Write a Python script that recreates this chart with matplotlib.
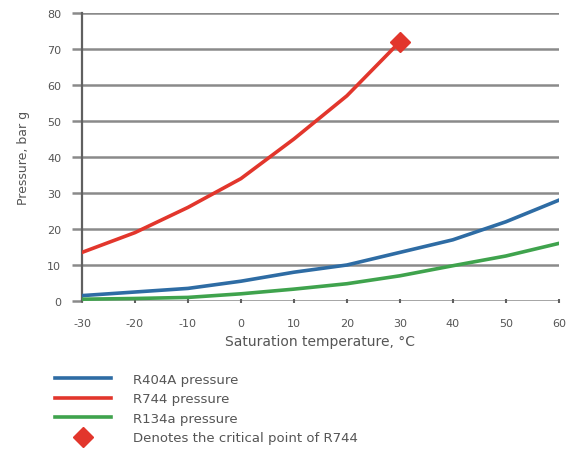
import matplotlib
matplotlib.use("Agg")
import matplotlib.pyplot as plt

plt.rcParams["axes.unicode_minus"] = False

temps = [-30, -20, -10, 0, 10, 20, 30, 40, 50, 60]
r404a = [1.5, 2.5, 3.5, 5.5, 8.0, 10.0, 13.5, 17.0, 22.0, 28.0]
r134a = [0.5, 0.7, 1.0, 2.0, 3.3, 4.8, 7.0, 9.8, 12.5, 16.0]
r744_t = [-30, -20, -10, 0, 10, 20, 30]
r744 = [13.5, 19.0, 26.0, 34.0, 45.0, 57.0, 72.0]
crit_t = [30]
crit_p = [72.0]
xticks = [-30, -20, -10, 0, 10, 20, 30, 40, 50, 60]
yticks = [0, 10, 20, 30, 40, 50, 60, 70, 80]

c_blue = "#2e6ca4"
c_red = "#e2362c"
c_green = "#3fa34d"
grid_c = "#8a8a8a"
text_c = "#555555"

fig = plt.figure(figsize=(5.71, 4.56), dpi=100)
ax = fig.add_axes([0.1436, 0.3377, 0.835, 0.6316])
ax.set_xlim(-30, 60)
ax.set_ylim(0, 80)

for y in yticks:
    ax.axhline(y, color=grid_c, lw=1.8, zorder=1)

l1, = ax.plot(temps, r404a, color=c_blue, lw=2.6, zorder=3, label="R404A pressure")
l2, = ax.plot(r744_t, r744, color=c_red, lw=2.6, zorder=3, label="R744 pressure")
l3, = ax.plot(temps, r134a, color=c_green, lw=2.6, zorder=3, label="R134a pressure")
m, = ax.plot(crit_t, crit_p, marker="D", ms=10, color=c_red, ls="none", zorder=4,
             label="Denotes the critical point of R744")

for s in ["top", "right", "bottom"]:
    ax.spines[s].set_visible(False)
ax.spines["left"].set_color("#606060")
ax.spines["left"].set_linewidth(1.6)

ax.set_xticks(xticks)
ax.set_yticks(yticks)
ax.tick_params(axis="y", length=7, width=1.8, color=grid_c, labelcolor=text_c,
               labelsize=8, pad=8)
ax.tick_params(axis="x", length=3, width=1.5, color="#606060", labelcolor=text_c,
               labelsize=8, pad=11, direction="inout")
ax.set_xlabel("Saturation temperature, °C", color=text_c, fontsize=10, labelpad=4)
ax.set_ylabel("Pressure, bar g", color=text_c, fontsize=9, labelpad=12)

fig.legend(handles=[l1, l2, l3, m], loc="upper left", bbox_to_anchor=(0.085, 0.195),
           frameon=False, fontsize=9.5, labelcolor=text_c, handlelength=4.2,
           handletextpad=1.7, labelspacing=0.5, borderpad=0)

fig.savefig("out.png", dpi=100)
